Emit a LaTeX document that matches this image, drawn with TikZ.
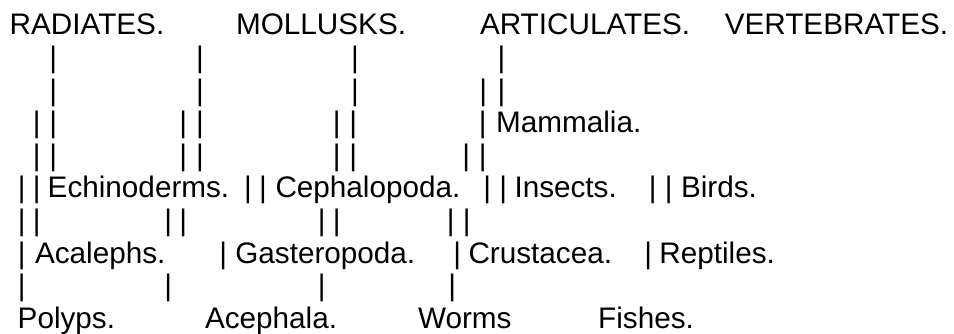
\documentclass[tikz,border=0pt]{standalone}
\usepackage{fontspec}
\setmainfont{Liberation Sans}
\begin{document}
\begin{tikzpicture}[x=1pt,y=-1pt,
  txt/.style={inner sep=0pt,outer sep=0pt,font=\fontsize{29.7}{32}\selectfont},
  word/.style={txt,anchor=base west},
  bar/.style={txt,anchor=base}]
\useasboundingbox (0,0) rectangle (954,334);
% row 0
\node[word] (radiates)    at (9.7,35)   {RADIATES.};
\node[word] (mollusks)    at (236.1,35) {MOLLUSKS.};
\node[word] (articulates) at (480,35)   {ARTICULATES.};
\node[word] (vertebrates) at (724.8,35) {VERTEBRATES.};
% vertical bars
\foreach \r/\xs in {
  1/{53.3,200,355,501.5},
  2/{53.3,200,355,483.3,501.5},
  3/{36.7,53.3,183.3,200,336.7,353.3,482.7},
  4/{36.7,53.3,183.3,200,336.7,353.3,466.3,482.7},
  5/{21.7,36.7,248,263,487.3,503.3,652.7,668.7},
  6/{21.7,36.7,168.3,183.3,321.7,336.7,450.7,466.7},
  7/{21.7,223.3,457.3,648.3},
  8/{21.7,168.3,321.7,452.2}}{
  \foreach \x [count=\i] in \xs {
    \node[bar] (p\r-\i) at (\x,{35+32.6*\r}) {|};
  }
}
% row 3
\node[word] (mammalia) at (496.1,132.8) {Mammalia.};
% row 5
\node[word] (echinoderms) at (47.7,198)  {Echinoderms.};
\node[word] (cephalopoda) at (275.5,198) {Cephalopoda.};
\node[word] (insects)     at (514.5,198) {Insects.};
\node[word] (birds)       at (681,198)   {Birds.};
% row 7
\node[word] (acalephs)    at (35,263.2)    {Acalephs.};
\node[word] (gasteropoda) at (235.3,263.2) {Gasteropoda.};
\node[word] (crustacea)   at (468.5,263.2) {Crustacea.};
\node[word] (reptiles)    at (659.4,263.2) {Reptiles.};
% row 9
\node[word] (polyps)   at (17.7,328.4)  {Polyps.};
\node[word] (acephala) at (205,328.4)   {Acephala.};
\node[word] (worms)    at (418,328.4)   {Worms};
\node[word] (fishes)   at (598.2,328.4) {Fishes.};
\end{tikzpicture}
\end{document}
